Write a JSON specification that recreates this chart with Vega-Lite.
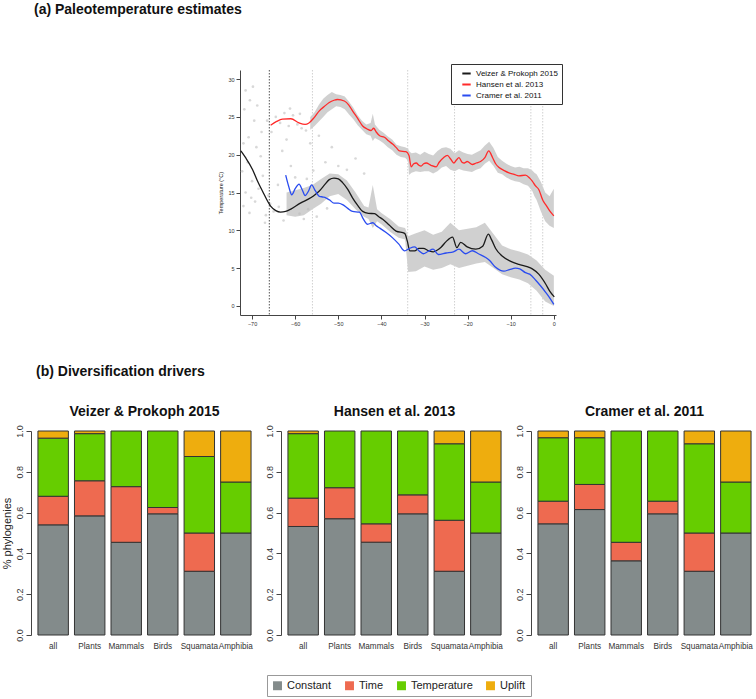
{
  "$schema": "https://vega.github.io/schema/vega-lite/v6.json",
  "padding": {"left": 0, "top": 3, "right": 0, "bottom": 0},
  "background": "white",
  "config": {
    "view": {"stroke": null},
    "font": "Liberation Sans",
    "axis": {"grid": false, "labelColor": "#333", "titleColor": "#222", "domainColor": "#444", "tickColor": "#444"}
  },
  "datasets": {
    "lines": [
      {"src":"Veizer & Prokoph 2015","a":-72.6,"t":20.5},{"src":"Veizer & Prokoph 2015","a":-71.5,"t":19.6},{"src":"Veizer & Prokoph 2015","a":-69.9,"t":18.05},{"src":"Veizer & Prokoph 2015","a":-68.8,"t":16.6},{"src":"Veizer & Prokoph 2015","a":-67.6,"t":15.2},{"src":"Veizer & Prokoph 2015","a":-65.7,"t":13.2},{"src":"Veizer & Prokoph 2015","a":-64.5,"t":12.6},{"src":"Veizer & Prokoph 2015","a":-63.4,"t":12.4},{"src":"Veizer & Prokoph 2015","a":-62.2,"t":12.5},{"src":"Veizer & Prokoph 2015","a":-61.0,"t":12.8},{"src":"Veizer & Prokoph 2015","a":-58.8,"t":13.6},{"src":"Veizer & Prokoph 2015","a":-56.4,"t":14.3},{"src":"Veizer & Prokoph 2015","a":-55.4,"t":14.7},{"src":"Veizer & Prokoph 2015","a":-54.4,"t":15.2},{"src":"Veizer & Prokoph 2015","a":-53.2,"t":16.0},{"src":"Veizer & Prokoph 2015","a":-52.1,"t":16.7},{"src":"Veizer & Prokoph 2015","a":-51.0,"t":16.9},{"src":"Veizer & Prokoph 2015","a":-50.0,"t":16.8},{"src":"Veizer & Prokoph 2015","a":-49.0,"t":16.3},{"src":"Veizer & Prokoph 2015","a":-47.8,"t":15.4},{"src":"Veizer & Prokoph 2015","a":-46.7,"t":14.3},{"src":"Veizer & Prokoph 2015","a":-45.5,"t":13.3},{"src":"Veizer & Prokoph 2015","a":-44.35,"t":12.5},{"src":"Veizer & Prokoph 2015","a":-43.0,"t":12.25},{"src":"Veizer & Prokoph 2015","a":-41.6,"t":12.2},{"src":"Veizer & Prokoph 2015","a":-40.6,"t":11.8},{"src":"Veizer & Prokoph 2015","a":-39.7,"t":11.45},{"src":"Veizer & Prokoph 2015","a":-38.2,"t":10.7},{"src":"Veizer & Prokoph 2015","a":-36.6,"t":9.9},{"src":"Veizer & Prokoph 2015","a":-34.6,"t":9.6},{"src":"Veizer & Prokoph 2015","a":-34.0,"t":8.6},{"src":"Veizer & Prokoph 2015","a":-33.4,"t":7.27},{"src":"Veizer & Prokoph 2015","a":-32.3,"t":7.27},{"src":"Veizer & Prokoph 2015","a":-31.3,"t":7.6},{"src":"Veizer & Prokoph 2015","a":-30.3,"t":7.6},{"src":"Veizer & Prokoph 2015","a":-29.0,"t":7.3},{"src":"Veizer & Prokoph 2015","a":-28.0,"t":7.15},{"src":"Veizer & Prokoph 2015","a":-27.0,"t":7.4},{"src":"Veizer & Prokoph 2015","a":-26.1,"t":7.8},{"src":"Veizer & Prokoph 2015","a":-25.0,"t":8.5},{"src":"Veizer & Prokoph 2015","a":-23.5,"t":9.1},{"src":"Veizer & Prokoph 2015","a":-22.5,"t":7.7},{"src":"Veizer & Prokoph 2015","a":-21.6,"t":8.4},{"src":"Veizer & Prokoph 2015","a":-20.1,"t":7.8},{"src":"Veizer & Prokoph 2015","a":-18.1,"t":7.5},{"src":"Veizer & Prokoph 2015","a":-16.5,"t":7.9},{"src":"Veizer & Prokoph 2015","a":-15.2,"t":9.5},{"src":"Veizer & Prokoph 2015","a":-14.4,"t":8.7},{"src":"Veizer & Prokoph 2015","a":-13.5,"t":7.6},{"src":"Veizer & Prokoph 2015","a":-12.0,"t":6.6},{"src":"Veizer & Prokoph 2015","a":-10.0,"t":5.9},{"src":"Veizer & Prokoph 2015","a":-8.1,"t":5.5},{"src":"Veizer & Prokoph 2015","a":-6.2,"t":5.2},{"src":"Veizer & Prokoph 2015","a":-5.0,"t":4.9},{"src":"Veizer & Prokoph 2015","a":-3.5,"t":4.2},{"src":"Veizer & Prokoph 2015","a":-1.9,"t":2.9},{"src":"Veizer & Prokoph 2015","a":-1.0,"t":2.0},{"src":"Veizer & Prokoph 2015","a":0.1,"t":1.2},
      {"src":"Hansen et al. 2013","a":-65.7,"t":23.9},{"src":"Hansen et al. 2013","a":-64.3,"t":24.4},{"src":"Hansen et al. 2013","a":-62.95,"t":24.7},{"src":"Hansen et al. 2013","a":-61.0,"t":24.75},{"src":"Hansen et al. 2013","a":-59.1,"t":24.2},{"src":"Hansen et al. 2013","a":-57.7,"t":24.0},{"src":"Hansen et al. 2013","a":-56.8,"t":24.2},{"src":"Hansen et al. 2013","a":-55.6,"t":24.9},{"src":"Hansen et al. 2013","a":-54.4,"t":25.8},{"src":"Hansen et al. 2013","a":-53.2,"t":26.4},{"src":"Hansen et al. 2013","a":-52.1,"t":26.9},{"src":"Hansen et al. 2013","a":-51.0,"t":27.2},{"src":"Hansen et al. 2013","a":-50.2,"t":27.3},{"src":"Hansen et al. 2013","a":-48.6,"t":27.1},{"src":"Hansen et al. 2013","a":-47.6,"t":26.6},{"src":"Hansen et al. 2013","a":-46.7,"t":25.8},{"src":"Hansen et al. 2013","a":-45.5,"t":24.8},{"src":"Hansen et al. 2013","a":-44.35,"t":23.8},{"src":"Hansen et al. 2013","a":-43.3,"t":23.4},{"src":"Hansen et al. 2013","a":-42.4,"t":23.2},{"src":"Hansen et al. 2013","a":-41.8,"t":23.5},{"src":"Hansen et al. 2013","a":-41.2,"t":23.0},{"src":"Hansen et al. 2013","a":-40.4,"t":22.5},{"src":"Hansen et al. 2013","a":-39.3,"t":22.3},{"src":"Hansen et al. 2013","a":-38.3,"t":21.8},{"src":"Hansen et al. 2013","a":-37.4,"t":21.4},{"src":"Hansen et al. 2013","a":-36.5,"t":20.9},{"src":"Hansen et al. 2013","a":-35.8,"t":20.5},{"src":"Hansen et al. 2013","a":-34.3,"t":20.4},{"src":"Hansen et al. 2013","a":-33.6,"t":19.9},{"src":"Hansen et al. 2013","a":-33.1,"t":18.4},{"src":"Hansen et al. 2013","a":-32.5,"t":18.8},{"src":"Hansen et al. 2013","a":-31.9,"t":18.9},{"src":"Hansen et al. 2013","a":-31.3,"t":18.6},{"src":"Hansen et al. 2013","a":-30.8,"t":18.5},{"src":"Hansen et al. 2013","a":-30.2,"t":18.8},{"src":"Hansen et al. 2013","a":-29.6,"t":18.9},{"src":"Hansen et al. 2013","a":-28.5,"t":18.6},{"src":"Hansen et al. 2013","a":-27.3,"t":18.4},{"src":"Hansen et al. 2013","a":-26.6,"t":19.0},{"src":"Hansen et al. 2013","a":-25.6,"t":19.6},{"src":"Hansen et al. 2013","a":-24.7,"t":19.9},{"src":"Hansen et al. 2013","a":-23.9,"t":19.4},{"src":"Hansen et al. 2013","a":-23.2,"t":18.9},{"src":"Hansen et al. 2013","a":-22.6,"t":19.3},{"src":"Hansen et al. 2013","a":-22.0,"t":19.6},{"src":"Hansen et al. 2013","a":-21.3,"t":19.0},{"src":"Hansen et al. 2013","a":-20.8,"t":18.9},{"src":"Hansen et al. 2013","a":-20.1,"t":19.1},{"src":"Hansen et al. 2013","a":-18.9,"t":18.7},{"src":"Hansen et al. 2013","a":-18.0,"t":18.9},{"src":"Hansen et al. 2013","a":-17.0,"t":19.1},{"src":"Hansen et al. 2013","a":-16.0,"t":19.6},{"src":"Hansen et al. 2013","a":-15.1,"t":20.5},{"src":"Hansen et al. 2013","a":-14.2,"t":19.6},{"src":"Hansen et al. 2013","a":-13.5,"t":18.8},{"src":"Hansen et al. 2013","a":-12.7,"t":18.3},{"src":"Hansen et al. 2013","a":-11.5,"t":17.9},{"src":"Hansen et al. 2013","a":-10.4,"t":17.6},{"src":"Hansen et al. 2013","a":-9.2,"t":17.4},{"src":"Hansen et al. 2013","a":-8.1,"t":17.2},{"src":"Hansen et al. 2013","a":-6.6,"t":17.3},{"src":"Hansen et al. 2013","a":-5.6,"t":16.9},{"src":"Hansen et al. 2013","a":-5.0,"t":16.5},{"src":"Hansen et al. 2013","a":-4.3,"t":15.9},{"src":"Hansen et al. 2013","a":-3.5,"t":15.4},{"src":"Hansen et al. 2013","a":-2.5,"t":13.9},{"src":"Hansen et al. 2013","a":-1.9,"t":13.4},{"src":"Hansen et al. 2013","a":-1.0,"t":12.6},{"src":"Hansen et al. 2013","a":0.0,"t":11.9},
      {"src":"Cramer et al. 2011","a":-62.2,"t":17.3},{"src":"Cramer et al. 2011","a":-61.5,"t":15.8},{"src":"Cramer et al. 2011","a":-60.8,"t":14.7},{"src":"Cramer et al. 2011","a":-60.0,"t":15.5},{"src":"Cramer et al. 2011","a":-59.1,"t":16.1},{"src":"Cramer et al. 2011","a":-58.4,"t":15.4},{"src":"Cramer et al. 2011","a":-57.7,"t":14.6},{"src":"Cramer et al. 2011","a":-56.9,"t":15.2},{"src":"Cramer et al. 2011","a":-56.2,"t":16.0},{"src":"Cramer et al. 2011","a":-55.3,"t":15.2},{"src":"Cramer et al. 2011","a":-54.4,"t":14.5},{"src":"Cramer et al. 2011","a":-53.5,"t":14.4},{"src":"Cramer et al. 2011","a":-52.9,"t":14.3},{"src":"Cramer et al. 2011","a":-52.0,"t":14.0},{"src":"Cramer et al. 2011","a":-51.0,"t":13.6},{"src":"Cramer et al. 2011","a":-50.0,"t":13.6},{"src":"Cramer et al. 2011","a":-49.0,"t":13.4},{"src":"Cramer et al. 2011","a":-47.8,"t":12.9},{"src":"Cramer et al. 2011","a":-46.7,"t":12.5},{"src":"Cramer et al. 2011","a":-45.1,"t":12.4},{"src":"Cramer et al. 2011","a":-44.2,"t":11.5},{"src":"Cramer et al. 2011","a":-43.2,"t":10.8},{"src":"Cramer et al. 2011","a":-42.0,"t":11.0},{"src":"Cramer et al. 2011","a":-41.2,"t":10.6},{"src":"Cramer et al. 2011","a":-40.4,"t":10.3},{"src":"Cramer et al. 2011","a":-38.9,"t":9.7},{"src":"Cramer et al. 2011","a":-37.4,"t":9.0},{"src":"Cramer et al. 2011","a":-36.0,"t":8.2},{"src":"Cramer et al. 2011","a":-34.6,"t":7.27},{"src":"Cramer et al. 2011","a":-33.5,"t":7.6},{"src":"Cramer et al. 2011","a":-32.3,"t":7.8},{"src":"Cramer et al. 2011","a":-31.3,"t":7.3},{"src":"Cramer et al. 2011","a":-30.3,"t":6.9},{"src":"Cramer et al. 2011","a":-29.2,"t":7.2},{"src":"Cramer et al. 2011","a":-28.0,"t":7.5},{"src":"Cramer et al. 2011","a":-26.8,"t":6.8},{"src":"Cramer et al. 2011","a":-25.0,"t":7.0},{"src":"Cramer et al. 2011","a":-23.3,"t":7.15},{"src":"Cramer et al. 2011","a":-22.0,"t":7.5},{"src":"Cramer et al. 2011","a":-20.5,"t":6.9},{"src":"Cramer et al. 2011","a":-18.9,"t":7.3},{"src":"Cramer et al. 2011","a":-17.5,"t":6.9},{"src":"Cramer et al. 2011","a":-15.8,"t":6.4},{"src":"Cramer et al. 2011","a":-14.9,"t":6.0},{"src":"Cramer et al. 2011","a":-13.5,"t":5.1},{"src":"Cramer et al. 2011","a":-11.6,"t":4.6},{"src":"Cramer et al. 2011","a":-10.3,"t":4.8},{"src":"Cramer et al. 2011","a":-8.9,"t":5.0},{"src":"Cramer et al. 2011","a":-7.9,"t":4.9},{"src":"Cramer et al. 2011","a":-6.6,"t":4.4},{"src":"Cramer et al. 2011","a":-5.6,"t":4.2},{"src":"Cramer et al. 2011","a":-4.2,"t":3.4},{"src":"Cramer et al. 2011","a":-3.0,"t":2.6},{"src":"Cramer et al. 2011","a":-1.9,"t":1.8},{"src":"Cramer et al. 2011","a":-1.0,"t":1.1},{"src":"Cramer et al. 2011","a":0.0,"t":0.2}
    ],
    "bands": [
      {"b":"upper","a":-56.5,"lo":23.3,"hi":25.0},{"b":"upper","a":-55.5,"lo":23.8,"hi":25.6},{"b":"upper","a":-54.5,"lo":24.4,"hi":26.6},{"b":"upper","a":-53.5,"lo":25.0,"hi":27.4},{"b":"upper","a":-52.5,"lo":25.6,"hi":27.9},{"b":"upper","a":-51.5,"lo":26.0,"hi":28.3},{"b":"upper","a":-50.5,"lo":26.4,"hi":28.0},{"b":"upper","a":-49.5,"lo":26.3,"hi":27.9},{"b":"upper","a":-48.5,"lo":26.0,"hi":27.7},{"b":"upper","a":-47.5,"lo":25.3,"hi":27.0},{"b":"upper","a":-46.5,"lo":24.7,"hi":26.2},{"b":"upper","a":-45.5,"lo":23.9,"hi":25.2},{"b":"upper","a":-44.5,"lo":23.3,"hi":24.5},{"b":"upper","a":-43.5,"lo":22.7,"hi":24.0},{"b":"upper","a":-42.5,"lo":22.5,"hi":24.2},{"b":"upper","a":-42.0,"lo":21.8,"hi":25.4},{"b":"upper","a":-41.5,"lo":22.2,"hi":24.0},{"b":"upper","a":-40.5,"lo":21.9,"hi":23.3},{"b":"upper","a":-39.5,"lo":21.5,"hi":22.9},{"b":"upper","a":-38.5,"lo":21.0,"hi":22.4},{"b":"upper","a":-37.5,"lo":20.6,"hi":22.0},{"b":"upper","a":-36.5,"lo":20.0,"hi":21.3},{"b":"upper","a":-35.5,"lo":19.7,"hi":21.1},{"b":"upper","a":-34.5,"lo":19.6,"hi":21.0},{"b":"upper","a":-33.8,"lo":19.2,"hi":20.8},{"b":"upper","a":-33.6,"lo":17.3,"hi":20.5},{"b":"upper","a":-33.0,"lo":17.6,"hi":20.2},{"b":"upper","a":-32.0,"lo":17.8,"hi":20.3},{"b":"upper","a":-31.0,"lo":17.7,"hi":20.0},{"b":"upper","a":-30.0,"lo":17.8,"hi":20.4},{"b":"upper","a":-29.0,"lo":17.8,"hi":20.1},{"b":"upper","a":-28.0,"lo":17.5,"hi":19.9},{"b":"upper","a":-27.0,"lo":17.8,"hi":20.5},{"b":"upper","a":-26.0,"lo":18.3,"hi":20.9},{"b":"upper","a":-25.0,"lo":18.5,"hi":21.0},{"b":"upper","a":-24.0,"lo":18.0,"hi":20.8},{"b":"upper","a":-23.0,"lo":17.8,"hi":20.2},{"b":"upper","a":-22.0,"lo":18.1,"hi":20.6},{"b":"upper","a":-21.0,"lo":17.9,"hi":20.3},{"b":"upper","a":-20.0,"lo":17.8,"hi":20.1},{"b":"upper","a":-19.0,"lo":17.7,"hi":20.0},{"b":"upper","a":-18.0,"lo":18.0,"hi":20.3},{"b":"upper","a":-17.0,"lo":18.2,"hi":20.6},{"b":"upper","a":-16.0,"lo":18.8,"hi":21.2},{"b":"upper","a":-15.0,"lo":19.2,"hi":21.7},{"b":"upper","a":-14.0,"lo":18.5,"hi":20.9},{"b":"upper","a":-13.0,"lo":17.6,"hi":19.7},{"b":"upper","a":-12.0,"lo":17.4,"hi":19.2},{"b":"upper","a":-11.0,"lo":17.0,"hi":18.8},{"b":"upper","a":-10.0,"lo":16.7,"hi":18.5},{"b":"upper","a":-9.0,"lo":16.5,"hi":18.3},{"b":"upper","a":-8.0,"lo":16.4,"hi":18.4},{"b":"upper","a":-7.0,"lo":16.1,"hi":18.2},{"b":"upper","a":-6.0,"lo":15.9,"hi":18.2},{"b":"upper","a":-5.0,"lo":15.2,"hi":17.9},{"b":"upper","a":-4.5,"lo":14.5,"hi":17.6},{"b":"upper","a":-4.0,"lo":14.0,"hi":17.4},{"b":"upper","a":-3.0,"lo":12.5,"hi":16.4},{"b":"upper","a":-2.0,"lo":11.2,"hi":15.0},{"b":"upper","a":-1.0,"lo":10.6,"hi":14.5},{"b":"upper","a":0.0,"lo":10.3,"hi":15.5},
      {"b":"lower","a":-62,"lo":12.0,"hi":15.0},{"b":"lower","a":-60,"lo":11.8,"hi":15.3},{"b":"lower","a":-58,"lo":12.0,"hi":15.6},{"b":"lower","a":-56,"lo":12.8,"hi":16.0},{"b":"lower","a":-54,"lo":13.5,"hi":16.8},{"b":"lower","a":-52,"lo":14.5,"hi":17.5},{"b":"lower","a":-50,"lo":14.8,"hi":17.4},{"b":"lower","a":-48,"lo":14.0,"hi":16.6},{"b":"lower","a":-46,"lo":12.8,"hi":15.0},{"b":"lower","a":-44,"lo":11.8,"hi":13.2},{"b":"lower","a":-43,"lo":11.5,"hi":13.0},{"b":"lower","a":-42,"lo":10.3,"hi":16.0},{"b":"lower","a":-41,"lo":11.2,"hi":12.8},{"b":"lower","a":-40,"lo":10.8,"hi":12.3},{"b":"lower","a":-38,"lo":9.8,"hi":11.5},{"b":"lower","a":-36,"lo":9.0,"hi":10.5},{"b":"lower","a":-34.5,"lo":8.8,"hi":10.3},{"b":"lower","a":-33.8,"lo":4.5,"hi":9.2},{"b":"lower","a":-32,"lo":4.6,"hi":9.6},{"b":"lower","a":-30,"lo":5.2,"hi":10.0},{"b":"lower","a":-28,"lo":4.8,"hi":9.4},{"b":"lower","a":-26,"lo":5.0,"hi":9.8},{"b":"lower","a":-24,"lo":5.5,"hi":11.0},{"b":"lower","a":-22,"lo":5.0,"hi":10.0},{"b":"lower","a":-20,"lo":5.3,"hi":10.2},{"b":"lower","a":-18,"lo":5.6,"hi":10.4},{"b":"lower","a":-16,"lo":5.8,"hi":11.0},{"b":"lower","a":-14,"lo":5.0,"hi":9.5},{"b":"lower","a":-12,"lo":4.2,"hi":8.0},{"b":"lower","a":-10,"lo":3.8,"hi":7.5},{"b":"lower","a":-8,"lo":3.5,"hi":7.2},{"b":"lower","a":-6,"lo":3.0,"hi":6.8},{"b":"lower","a":-4,"lo":2.0,"hi":6.0},{"b":"lower","a":-2,"lo":0.6,"hi":4.8},{"b":"lower","a":0,"lo":0.0,"hi":4.0}
    ],
    "pts": [
      {"a":-71.5,"t":28.5},{"a":-70.5,"t":27.2},{"a":-71.8,"t":26.0},{"a":-69.5,"t":24.5},{"a":-70.8,"t":22.3},{"a":-72.0,"t":21.5},{"a":-69.0,"t":21.0},{"a":-71.0,"t":19.0},{"a":-72.3,"t":17.8},{"a":-70.0,"t":16.5},{"a":-68.5,"t":15.5},{"a":-71.5,"t":15.0},{"a":-70.2,"t":14.3},{"a":-69.3,"t":13.8},{"a":-72.0,"t":13.2},{"a":-68.0,"t":19.8},{"a":-67.5,"t":17.2},{"a":-66.8,"t":12.0},{"a":-67.0,"t":11.0},{"a":-65.8,"t":13.5},{"a":-65.0,"t":12.5},{"a":-64.5,"t":25.0},{"a":-63.5,"t":24.2},{"a":-62.5,"t":25.5},{"a":-61.5,"t":23.8},{"a":-60.5,"t":25.2},{"a":-59.5,"t":24.0},{"a":-58.5,"t":23.5},{"a":-57.5,"t":23.2},{"a":-63.0,"t":20.5},{"a":-61.0,"t":18.5},{"a":-64.0,"t":16.0},{"a":-60.0,"t":17.0},{"a":-58.0,"t":11.5},{"a":-59.0,"t":12.2},{"a":-57.0,"t":12.8},{"a":-55.0,"t":11.8},{"a":-53.0,"t":19.0},{"a":-50.0,"t":18.5},{"a":-48.0,"t":18.0},{"a":-66.5,"t":24.5},{"a":-65.5,"t":23.0},{"a":-68.8,"t":26.5},{"a":-67.8,"t":23.0},{"a":-62.0,"t":22.0},{"a":-56.5,"t":21.5},{"a":-54.5,"t":22.5},{"a":-51.5,"t":21.0},{"a":-46.0,"t":19.5},{"a":-44.0,"t":17.5},{"a":-70.6,"t":12.3},{"a":-69.8,"t":29.0},{"a":-66.2,"t":14.6},{"a":-63.8,"t":13.1},{"a":-62.7,"t":11.3},{"a":-61.2,"t":26.1},{"a":-58.9,"t":25.4},{"a":-57.3,"t":16.8},{"a":-55.8,"t":17.9},{"a":-52.6,"t":12.9}
    ],
    "epochs": [
      {"e":-66.0,"k":"KPg"},{"e":-56.0,"k":"other"},{"e":-33.9,"k":"other"},{"e":-23.03,"k":"other"},{"e":-5.33,"k":"other"},{"e":-2.58,"k":"other"}
    ],
    "bars": [
      {"src":"Veizer & Prokoph 2015","g":"all","d":"Constant","k":1,"v":0.54},{"src":"Veizer & Prokoph 2015","g":"all","d":"Time","k":2,"v":0.14},{"src":"Veizer & Prokoph 2015","g":"all","d":"Temperature","k":3,"v":0.285},{"src":"Veizer & Prokoph 2015","g":"all","d":"Uplift","k":4,"v":0.035},
      {"src":"Veizer & Prokoph 2015","g":"Plants","d":"Constant","k":1,"v":0.584},{"src":"Veizer & Prokoph 2015","g":"Plants","d":"Time","k":2,"v":0.172},{"src":"Veizer & Prokoph 2015","g":"Plants","d":"Temperature","k":3,"v":0.231},{"src":"Veizer & Prokoph 2015","g":"Plants","d":"Uplift","k":4,"v":0.013},
      {"src":"Veizer & Prokoph 2015","g":"Mammals","d":"Constant","k":1,"v":0.4545},{"src":"Veizer & Prokoph 2015","g":"Mammals","d":"Time","k":2,"v":0.2727},{"src":"Veizer & Prokoph 2015","g":"Mammals","d":"Temperature","k":3,"v":0.2728},
      {"src":"Veizer & Prokoph 2015","g":"Birds","d":"Constant","k":1,"v":0.594},{"src":"Veizer & Prokoph 2015","g":"Birds","d":"Time","k":2,"v":0.031},{"src":"Veizer & Prokoph 2015","g":"Birds","d":"Temperature","k":3,"v":0.375},
      {"src":"Veizer & Prokoph 2015","g":"Squamata","d":"Constant","k":1,"v":0.3125},{"src":"Veizer & Prokoph 2015","g":"Squamata","d":"Time","k":2,"v":0.1875},{"src":"Veizer & Prokoph 2015","g":"Squamata","d":"Temperature","k":3,"v":0.375},{"src":"Veizer & Prokoph 2015","g":"Squamata","d":"Uplift","k":4,"v":0.125},
      {"src":"Veizer & Prokoph 2015","g":"Amphibia","d":"Constant","k":1,"v":0.5},{"src":"Veizer & Prokoph 2015","g":"Amphibia","d":"Temperature","k":3,"v":0.25},{"src":"Veizer & Prokoph 2015","g":"Amphibia","d":"Uplift","k":4,"v":0.25},
      {"src":"Hansen et al. 2013","g":"all","d":"Constant","k":1,"v":0.532},{"src":"Hansen et al. 2013","g":"all","d":"Time","k":2,"v":0.139},{"src":"Hansen et al. 2013","g":"all","d":"Temperature","k":3,"v":0.316},{"src":"Hansen et al. 2013","g":"all","d":"Uplift","k":4,"v":0.013},
      {"src":"Hansen et al. 2013","g":"Plants","d":"Constant","k":1,"v":0.57},{"src":"Hansen et al. 2013","g":"Plants","d":"Time","k":2,"v":0.152},{"src":"Hansen et al. 2013","g":"Plants","d":"Temperature","k":3,"v":0.278},
      {"src":"Hansen et al. 2013","g":"Mammals","d":"Constant","k":1,"v":0.455},{"src":"Hansen et al. 2013","g":"Mammals","d":"Time","k":2,"v":0.09},{"src":"Hansen et al. 2013","g":"Mammals","d":"Temperature","k":3,"v":0.455},
      {"src":"Hansen et al. 2013","g":"Birds","d":"Constant","k":1,"v":0.594},{"src":"Hansen et al. 2013","g":"Birds","d":"Time","k":2,"v":0.093},{"src":"Hansen et al. 2013","g":"Birds","d":"Temperature","k":3,"v":0.313},
      {"src":"Hansen et al. 2013","g":"Squamata","d":"Constant","k":1,"v":0.3125},{"src":"Hansen et al. 2013","g":"Squamata","d":"Time","k":2,"v":0.25},{"src":"Hansen et al. 2013","g":"Squamata","d":"Temperature","k":3,"v":0.375},{"src":"Hansen et al. 2013","g":"Squamata","d":"Uplift","k":4,"v":0.0625},
      {"src":"Hansen et al. 2013","g":"Amphibia","d":"Constant","k":1,"v":0.5},{"src":"Hansen et al. 2013","g":"Amphibia","d":"Temperature","k":3,"v":0.25},{"src":"Hansen et al. 2013","g":"Amphibia","d":"Uplift","k":4,"v":0.25},
      {"src":"Cramer et al. 2011","g":"all","d":"Constant","k":1,"v":0.545},{"src":"Cramer et al. 2011","g":"all","d":"Time","k":2,"v":0.111},{"src":"Cramer et al. 2011","g":"all","d":"Temperature","k":3,"v":0.311},{"src":"Cramer et al. 2011","g":"all","d":"Uplift","k":4,"v":0.033},
      {"src":"Cramer et al. 2011","g":"Plants","d":"Constant","k":1,"v":0.615},{"src":"Cramer et al. 2011","g":"Plants","d":"Time","k":2,"v":0.123},{"src":"Cramer et al. 2011","g":"Plants","d":"Temperature","k":3,"v":0.229},{"src":"Cramer et al. 2011","g":"Plants","d":"Uplift","k":4,"v":0.033},
      {"src":"Cramer et al. 2011","g":"Mammals","d":"Constant","k":1,"v":0.3636},{"src":"Cramer et al. 2011","g":"Mammals","d":"Time","k":2,"v":0.0909},{"src":"Cramer et al. 2011","g":"Mammals","d":"Temperature","k":3,"v":0.5455},
      {"src":"Cramer et al. 2011","g":"Birds","d":"Constant","k":1,"v":0.594},{"src":"Cramer et al. 2011","g":"Birds","d":"Time","k":2,"v":0.062},{"src":"Cramer et al. 2011","g":"Birds","d":"Temperature","k":3,"v":0.344},
      {"src":"Cramer et al. 2011","g":"Squamata","d":"Constant","k":1,"v":0.3125},{"src":"Cramer et al. 2011","g":"Squamata","d":"Time","k":2,"v":0.1875},{"src":"Cramer et al. 2011","g":"Squamata","d":"Temperature","k":3,"v":0.4375},{"src":"Cramer et al. 2011","g":"Squamata","d":"Uplift","k":4,"v":0.0625},
      {"src":"Cramer et al. 2011","g":"Amphibia","d":"Constant","k":1,"v":0.5},{"src":"Cramer et al. 2011","g":"Amphibia","d":"Temperature","k":3,"v":0.25},{"src":"Cramer et al. 2011","g":"Amphibia","d":"Uplift","k":4,"v":0.25}
    ]
  },
  "spacing": 37,
  "vconcat": [
    {
      "title": {"text": "(a) Paleotemperature estimates", "anchor": "start", "fontSize": 14, "fontWeight": "bold", "dx": 3, "offset": 52, "color": "#111"},
      "spacing": 0,
      "hconcat": [
        {
          "width": 187, "height": 10,
          "view": {"fill": "white", "stroke": null},
          "data": {"values": [{"t": ""}]},
          "mark": {"type": "text"},
          "encoding": {"text": {"field": "t"}}
        },
        {
          "width": 316, "height": 245,
          "layer": [
            {
              "data": {"name": "pts"},
              "mark": {"type": "point", "filled": true, "size": 7, "color": "#c8c8c8", "opacity": 0.7},
              "encoding": {
                "x": {"field": "a", "type": "quantitative", "scale": {"domain": [-72.8, 0.5], "nice": false, "zero": false},
                  "axis": {"title": null, "values": [-70,-60,-50,-40,-30,-20,-10,0], "format": "d", "labelFontSize": 5.5, "tickSize": 4, "labelPadding": 2}},
                "y": {"field": "t", "type": "quantitative", "scale": {"domain": [-1.2, 31.2], "nice": false, "zero": false},
                  "axis": {"title": "Temperature (°C)", "values": [0,5,10,15,20,25,30], "labelFontSize": 5.5, "titleFontSize": 5.5, "titleFontWeight": "normal", "tickSize": 4, "labelPadding": 2, "titlePadding": 4}}
              }
            },
            {
              "data": {"name": "bands"},
              "mark": {"type": "area", "color": "#bcbcbc", "opacity": 0.7},
              "encoding": {
                "x": {"field": "a", "type": "quantitative"},
                "y": {"field": "lo", "type": "quantitative"},
                "y2": {"field": "hi"},
                "detail": {"field": "b"}
              }
            },
            {
              "data": {"name": "epochs"},
              "transform": [{"filter": "datum.k === 'KPg'"}],
              "mark": {"type": "rule", "color": "#555", "strokeDash": [1.5, 1.5], "strokeWidth": 1},
              "encoding": {"x": {"field": "e", "type": "quantitative"}}
            },
            {
              "data": {"name": "epochs"},
              "transform": [{"filter": "datum.k !== 'KPg'"}],
              "mark": {"type": "rule", "color": "#d0d0d0", "strokeDash": [1.5, 1.5], "strokeWidth": 1},
              "encoding": {"x": {"field": "e", "type": "quantitative"}}
            },
            {
              "data": {"name": "lines"},
              "mark": {"type": "line", "strokeWidth": 1.3, "interpolate": "monotone"},
              "encoding": {
                "x": {"field": "a", "type": "quantitative"},
                "y": {"field": "t", "type": "quantitative"},
                "stroke": {"field": "src", "type": "nominal",
                  "scale": {"domain": ["Veizer & Prokoph 2015", "Hansen et al. 2013", "Cramer et al. 2011"], "range": ["#1a1a1a", "#ff2a2a", "#2a4cf0"]},
                  "legend": {"orient": "none", "legendX": 420, "legendY": -6, "title": null, "symbolType": "stroke", "symbolStrokeWidth": 2, "symbolSize": 70, "labelFontSize": 8, "labelColor": "#111", "strokeColor": "#333", "fillColor": "white", "padding": 4, "rowPadding": 1, "symbolOffset": 6}
                }
              }
            }
          ]
        }
      ]
    },
    {
      "title": {"text": "(b) Diversification drivers", "anchor": "start", "fontSize": 14, "fontWeight": "bold", "dx": 35, "offset": 26, "color": "#111"},
      "spacing": 6,
      "hconcat": [
        {
          "width": 227, "height": 204,
          "title": {"text": "Veizer & Prokoph 2015", "fontSize": 14, "fontWeight": "bold", "offset": 6, "color": "#111"},
          "data": {"name": "bars"},
          "transform": [{"filter": "datum.src === 'Veizer & Prokoph 2015'"}],
          "mark": {"type": "bar", "stroke": "#333", "strokeWidth": 1},
          "encoding": {
            "x": {"field": "g", "type": "nominal", "sort": ["all","Plants","Mammals","Birds","Squamata","Amphibia"], "scale": {"paddingInner": 0.167, "paddingOuter": 0.19},
              "axis": {"title": null, "labelAngle": 0, "domain": false, "ticks": false, "labelPadding": 7, "labelFontSize": 8.2, "labelOverlap": false, "labelLimit": 60}},
            "y": {"field": "v", "type": "quantitative", "stack": "zero", "scale": {"domain": [0, 1], "nice": false},
              "axis": {"title": "% phylogenies", "titleFontSize": 11, "titleFontWeight": "normal", "values": [0,0.2,0.4,0.6,0.8,1], "format": ".1f", "labelAngle": -90, "labelFontSize": 9, "tickSize": 5, "labelPadding": 2, "titlePadding": 3}},
            "fill": {"field": "d", "type": "nominal",
              "scale": {"domain": ["Constant", "Time", "Temperature", "Uplift"], "range": ["#838B8B", "#EE6A50", "#66CD00", "#EEAD0E"]},
              "legend": {"orient": "none", "legendX": 236, "legendY": 605, "direction": "horizontal", "title": null, "symbolType": "square", "symbolSize": 80, "symbolStrokeWidth": 0, "labelFontSize": 11, "labelColor": "#222", "strokeColor": "#999", "fillColor": "white", "padding": 5, "columnPadding": 12}},
            "order": {"field": "k", "type": "quantitative"}
          }
        },
        {
          "width": 227, "height": 204,
          "title": {"text": "Hansen et al. 2013", "fontSize": 14, "fontWeight": "bold", "offset": 6, "color": "#111"},
          "data": {"name": "bars"},
          "transform": [{"filter": "datum.src === 'Hansen et al. 2013'"}],
          "mark": {"type": "bar", "stroke": "#333", "strokeWidth": 1},
          "encoding": {
            "x": {"field": "g", "type": "nominal", "sort": ["all","Plants","Mammals","Birds","Squamata","Amphibia"], "scale": {"paddingInner": 0.167, "paddingOuter": 0.19},
              "axis": {"title": null, "labelAngle": 0, "domain": false, "ticks": false, "labelPadding": 7, "labelFontSize": 8.2, "labelOverlap": false, "labelLimit": 60}},
            "y": {"field": "v", "type": "quantitative", "stack": "zero", "scale": {"domain": [0, 1], "nice": false},
              "axis": {"title": null, "values": [0,0.2,0.4,0.6,0.8,1], "format": ".1f", "labelAngle": -90, "labelFontSize": 9, "tickSize": 5, "labelPadding": 2}},
            "fill": {"field": "d", "type": "nominal"},
            "order": {"field": "k", "type": "quantitative"}
          }
        },
        {
          "width": 227, "height": 204,
          "title": {"text": "Cramer et al. 2011", "fontSize": 14, "fontWeight": "bold", "offset": 6, "color": "#111"},
          "data": {"name": "bars"},
          "transform": [{"filter": "datum.src === 'Cramer et al. 2011'"}],
          "mark": {"type": "bar", "stroke": "#333", "strokeWidth": 1},
          "encoding": {
            "x": {"field": "g", "type": "nominal", "sort": ["all","Plants","Mammals","Birds","Squamata","Amphibia"], "scale": {"paddingInner": 0.167, "paddingOuter": 0.19},
              "axis": {"title": null, "labelAngle": 0, "domain": false, "ticks": false, "labelPadding": 7, "labelFontSize": 8.2, "labelOverlap": false, "labelLimit": 60}},
            "y": {"field": "v", "type": "quantitative", "stack": "zero", "scale": {"domain": [0, 1], "nice": false},
              "axis": {"title": null, "values": [0,0.2,0.4,0.6,0.8,1], "format": ".1f", "labelAngle": -90, "labelFontSize": 9, "tickSize": 5, "labelPadding": 2}},
            "fill": {"field": "d", "type": "nominal"},
            "order": {"field": "k", "type": "quantitative"}
          }
        }
      ]
    }
  ]
}
